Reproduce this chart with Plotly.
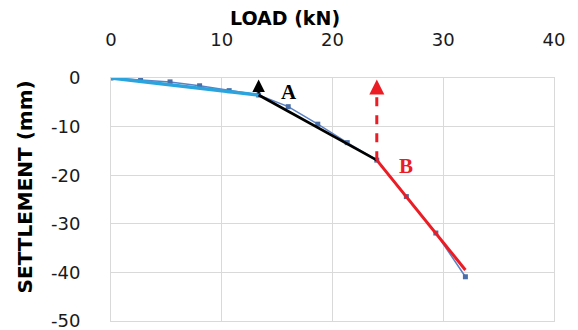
import plotly.graph_objects as go

# ---- data ----
load_kN = [0, 2.67, 5.33, 8.0, 10.67, 13.33, 16.0, 18.67, 21.33, 24.0, 26.67, 29.33, 32.0]
settlement_mm = [0, -0.4, -0.8, -1.6, -2.6, -3.5, -5.9, -9.5, -13.3, -16.9, -24.4, -31.9, -40.9]

idx_A = 5          # point A
idx_B = 9          # point B
red_fit_end_load = 32.0
red_fit_end_settlement = -39.5
arrow_top = -0.3

x_ticks = [0, 10, 20, 30, 40]
y_ticks = [0, -10, -20, -30, -40, -50]

FONT = "DejaVu Sans"
GRID = "#d9d9d9"

fig = go.Figure()

# measured series
fig.add_trace(go.Scatter(
    x=load_kN, y=settlement_mm, mode="lines+markers",
    line=dict(color="#5b82c4", width=1.5),
    marker=dict(color="#4a6fa8", size=5, symbol="square"),
    showlegend=False))

# fit 0 -> A (light blue)
fig.add_trace(go.Scatter(
    x=[load_kN[0], load_kN[idx_A]], y=[settlement_mm[0], settlement_mm[idx_A]], mode="lines",
    line=dict(color="#2ba4de", width=3.5), showlegend=False))
# fit A -> B (black)
fig.add_trace(go.Scatter(
    x=[load_kN[idx_A], load_kN[idx_B]], y=[settlement_mm[idx_A], settlement_mm[idx_B]],
    mode="lines", line=dict(color="black", width=2.8), showlegend=False))
# fit B -> end (red)
fig.add_trace(go.Scatter(
    x=[load_kN[idx_B], red_fit_end_load], y=[settlement_mm[idx_B], red_fit_end_settlement],
    mode="lines", line=dict(color="#ec1c24", width=3), showlegend=False))
# red dashed vertical at B
fig.add_trace(go.Scatter(
    x=[load_kN[idx_B], load_kN[idx_B]], y=[settlement_mm[idx_B], arrow_top - 1.5],
    mode="lines", line=dict(color="#ec1c24", width=3, dash="dash"), showlegend=False))

annotations = [
    # black arrow at A
    dict(x=load_kN[idx_A], y=arrow_top, ax=load_kN[idx_A], ay=settlement_mm[idx_A],
         xref="x", yref="y", axref="x", ayref="y", text="", showarrow=True,
         arrowhead=2, arrowsize=1.0, arrowwidth=2.5, arrowcolor="black"),
    # red arrow head at B
    dict(x=load_kN[idx_B], y=arrow_top, ax=load_kN[idx_B], ay=arrow_top - 3,
         xref="x", yref="y", axref="x", ayref="y", text="", showarrow=True,
         arrowhead=2, arrowsize=1.0, arrowwidth=3, arrowcolor="#ec1c24"),
    dict(x=load_kN[idx_A] + 2.7, y=settlement_mm[idx_A] + 0.6, xref="x", yref="y",
         text="<b>A</b>", showarrow=False,
         font=dict(family="Liberation Serif", size=21, color="black")),
    dict(x=load_kN[idx_B] + 2.6, y=settlement_mm[idx_B] - 1.3, xref="x", yref="y",
         text="<b>B</b>", showarrow=False,
         font=dict(family="Liberation Serif", size=21, color="#ec1c24")),
    dict(x=0.393, y=1.245, xref="paper", yref="paper", xanchor="center", yanchor="middle",
         text="<b>LOAD (kN)</b>",
         showarrow=False, font=dict(family=FONT, size=19, color="black")),
    dict(x=-0.194, y=0.55, xref="paper", yref="paper", xanchor="center", yanchor="middle",
         text="<b>SETTLEMENT (mm)</b>",
         textangle=-90, showarrow=False, font=dict(family=FONT, size=20, color="black")),
]

fig.update_layout(
    width=578, height=330,
    margin=dict(l=111, r=24, t=78, b=9),
    paper_bgcolor="white", plot_bgcolor="white",
    annotations=annotations,
    font=dict(family=FONT, size=18, color="#1a1a1a"),
)
fig.update_xaxes(
    side="top", range=[0, 40], tickvals=x_ticks, ticktext=[str(v) for v in x_ticks],
    showgrid=True, gridcolor=GRID, gridwidth=1, zeroline=False, automargin=False,
    showline=True, mirror=True, linecolor=GRID, linewidth=1,
    ticks="outside", ticklen=24, tickcolor="rgba(0,0,0,0)", ticklabeloverflow="allow",
    tickfont=dict(family=FONT, size=18, color="#1a1a1a"))
fig.update_yaxes(
    range=[-50, 0], tickvals=y_ticks, ticktext=[str(v) for v in y_ticks],
    showgrid=True, gridcolor=GRID, gridwidth=1, zeroline=False, automargin=False,
    showline=True, mirror=True, linecolor=GRID, linewidth=1,
    ticks="outside", ticklen=26, tickcolor="rgba(0,0,0,0)", ticklabeloverflow="allow",
    tickfont=dict(family=FONT, size=18, color="#1a1a1a"))

fig.write_html("out.html")
